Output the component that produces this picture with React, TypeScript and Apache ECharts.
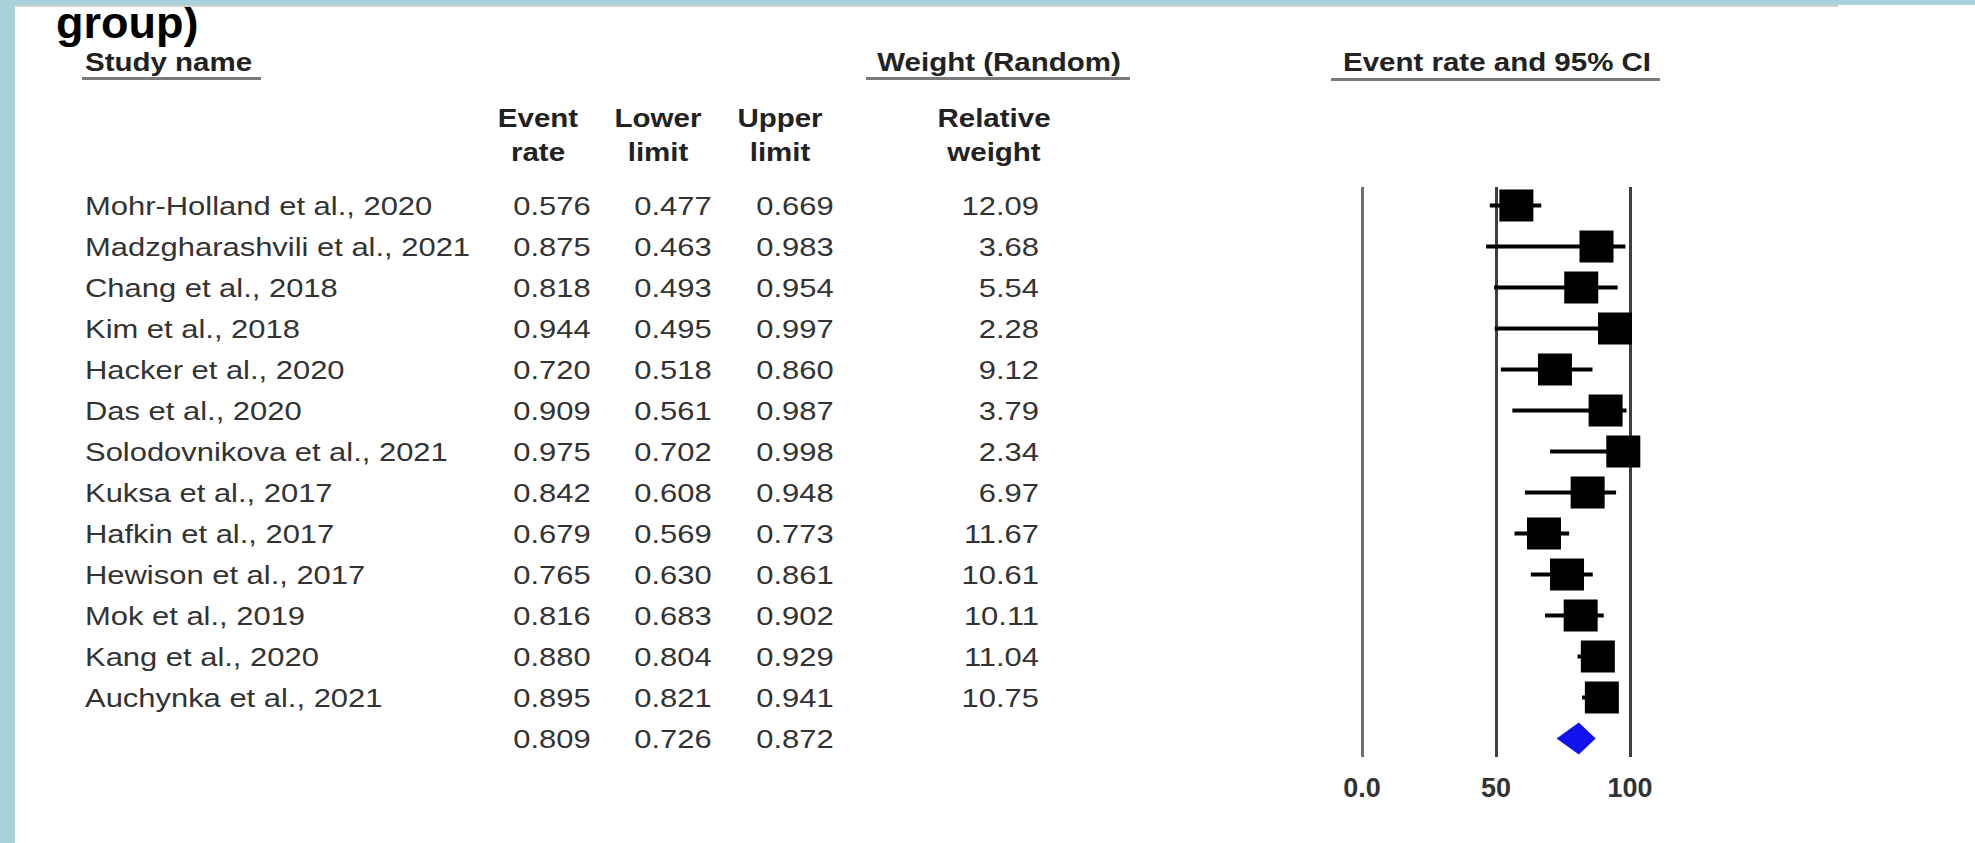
import React, { useEffect, useRef } from 'react';
import * as echarts from 'echarts';

// Study-level results (proportions) and random-effects weights
const studies = [
  'Mohr-Holland et al., 2020',
  'Madzgharashvili et al., 2021',
  'Chang et al., 2018',
  'Kim et al., 2018',
  'Hacker et al., 2020',
  'Das et al., 2020',
  'Solodovnikova et al., 2021',
  'Kuksa et al., 2017',
  'Hafkin et al., 2017',
  'Hewison et al., 2017',
  'Mok et al., 2019',
  'Kang et al., 2020',
  'Auchynka et al., 2021',
];
const eventRate = [0.576, 0.875, 0.818, 0.944, 0.72, 0.909, 0.975, 0.842, 0.679, 0.765, 0.816, 0.88, 0.895];
const lowerLimit = [0.477, 0.463, 0.493, 0.495, 0.518, 0.561, 0.702, 0.608, 0.569, 0.63, 0.683, 0.804, 0.821];
const upperLimit = [0.669, 0.983, 0.954, 0.997, 0.86, 0.987, 0.998, 0.948, 0.773, 0.861, 0.902, 0.929, 0.941];
const relativeWeight = [12.09, 3.68, 5.54, 2.28, 9.12, 3.79, 2.34, 6.97, 11.67, 10.61, 10.11, 11.04, 10.75];

// Pooled estimate
const pooledRate = 0.809;
const pooledLower = 0.726;
const pooledUpper = 0.872;

// Plot scale ticks
const axisTicks = [0, 50, 100];
const axisTickLabels = ['0.0', '50', '100'];

const FONT = '"Liberation Sans", Arial, Helvetica, sans-serif';
const ROW_SCALE_X = 1.19;
const HEAD_SCALE_X = 1.18;
const FRAME_BLUE = '#a8d3db';

export default function App() {
  const ref = useRef<HTMLDivElement>(null);

  useEffect(() => {
    const chart = echarts.init(ref.current as HTMLDivElement, null, { renderer: 'svg' });
    const summaryRow = studies.length;

    const cell = (text: string, x: number, y: number, align: string) => ({
      type: 'text',
      x,
      y,
      scaleX: ROW_SCALE_X,
      style: {
        text,
        fill: '#333333',
        fontSize: 26,
        fontFamily: FONT,
        align,
        textAlign: align,
        verticalAlign: 'middle',
        textVerticalAlign: 'middle',
      },
    });

    const head = (text: string, x: number, y: number, align = 'center') => ({
      type: 'text',
      x,
      y,
      scaleX: HEAD_SCALE_X,
      z: 10,
      style: {
        text,
        fill: '#222222',
        fontSize: 25,
        fontWeight: 'bold',
        fontFamily: FONT,
        align,
        textAlign: align,
        verticalAlign: 'middle',
        textVerticalAlign: 'middle',
      },
    });

    const underline = (x1: number, x2: number, y: number) => ({
      type: 'rect',
      z: 10,
      shape: { x: x1, y, width: x2 - x1, height: 3 },
      style: { fill: '#7a7a7a' },
    });

    const tableData: number[][] = [];
    for (let i = 0; i <= summaryRow; i++) tableData.push([0, i]);

    chart.setOption({
      animation: false,
      backgroundColor: '#ffffff',
      grid: { left: 1362, width: 268, top: 187, height: 570 },
      xAxis: {
        type: 'value',
        min: 0,
        max: 100,
        interval: 50,
        axisLine: { show: false },
        axisTick: { show: false },
        splitLine: {
          show: true,
          lineStyle: { color: ['#707070', '#3e3e3e', '#3e3e3e'], width: 3 },
        },
        axisLabel: {
          margin: 17,
          fontSize: 27,
          fontWeight: 'bold',
          fontFamily: FONT,
          color: '#333333',
          formatter: (v: number) => {
            const k = axisTicks.indexOf(v);
            return k >= 0 ? axisTickLabels[k] : '';
          },
        },
      },
      yAxis: {
        type: 'value',
        inverse: true,
        min: -0.45,
        max: 13.45,
        show: false,
      },
      series: [
        // Table columns: study name, event rate, limits, relative weight
        {
          type: 'custom',
          coordinateSystem: 'cartesian2d',
          silent: true,
          clip: false,
          data: tableData,
          renderItem: (params: any, api: any) => {
            const i = params.dataIndex;
            const y = api.coord([0, i])[1];
            const isSummary = i === summaryRow;
            const rate = isSummary ? pooledRate : eventRate[i];
            const lo = isSummary ? pooledLower : lowerLimit[i];
            const hi = isSummary ? pooledUpper : upperLimit[i];
            const children: any[] = [
              cell(rate.toFixed(3), 552, y, 'center'),
              cell(lo.toFixed(3), 673, y, 'center'),
              cell(hi.toFixed(3), 795, y, 'center'),
            ];
            if (!isSummary) {
              children.push(cell(studies[i], 85, y, 'left'));
              children.push(cell(relativeWeight[i].toFixed(2), 1039, y, 'right'));
            }
            return { type: 'group', children };
          },
        },
        // Confidence interval whiskers
        {
          type: 'custom',
          coordinateSystem: 'cartesian2d',
          silent: true,
          z: 2,
          data: studies.map((_, i) => [lowerLimit[i] * 100, upperLimit[i] * 100, i]),
          encode: { x: [0, 1], y: 2 },
          renderItem: (params: any, api: any) => {
            const a = api.coord([api.value(0), api.value(2)]);
            const b = api.coord([api.value(1), api.value(2)]);
            return {
              type: 'line',
              shape: { x1: a[0], y1: a[1], x2: b[0], y2: b[1] },
              style: { stroke: '#000000', lineWidth: 4 },
            };
          },
        },
        // Point estimates
        {
          type: 'scatter',
          silent: true,
          z: 3,
          symbol: 'rect',
          symbolSize: [34, 32],
          itemStyle: { color: '#000000', opacity: 1 },
          data: eventRate.map((r, i) => [r * 100, i]),
        },
        // Pooled estimate diamond
        {
          type: 'custom',
          coordinateSystem: 'cartesian2d',
          silent: true,
          z: 3,
          data: [[pooledLower * 100, pooledRate * 100, pooledUpper * 100, summaryRow]],
          encode: { x: [0, 1, 2], y: 3 },
          renderItem: (params: any, api: any) => {
            const row = api.value(3);
            const l = api.coord([api.value(0), row]);
            const m = api.coord([api.value(1), row]);
            const r = api.coord([api.value(2), row]);
            const h = 16;
            return {
              type: 'polygon',
              shape: {
                points: [
                  [l[0], l[1]],
                  [m[0], m[1] - h],
                  [r[0], r[1]],
                  [m[0], m[1] + h],
                ],
              },
              style: { fill: '#1212ee' },
            };
          },
        },
      ],
      graphic: {
        elements: [
          // Slide title fragment
          {
            type: 'text',
            x: 56,
            y: 22,
            z: 5,
            style: {
              text: 'group)',
              fill: '#000000',
              fontSize: 45,
              fontWeight: 'bold',
              fontFamily: FONT,
              align: 'left',
              textAlign: 'left',
              verticalAlign: 'middle',
              textVerticalAlign: 'middle',
            },
          },
          // Column headers
          head('Study name', 85, 62, 'left'),
          underline(82, 261, 77),
          head('Weight (Random)', 999, 62),
          underline(866, 1130, 77),
          head('Event rate and 95% CI', 1497, 62),
          underline(1331, 1660, 78),
          head('Event', 538, 118),
          head('rate', 538, 152),
          head('Lower', 658, 118),
          head('limit', 658, 152),
          head('Upper', 780, 118),
          head('limit', 780, 152),
          head('Relative', 994, 118),
          head('weight', 994, 152),
          // Slide frame
          {
            type: 'rect',
            z: 20,
            shape: { x: 15, y: 5, width: 1823, height: 2 },
            style: { fill: '#d2d2d2' },
          },
          {
            type: 'rect',
            z: 20,
            shape: { x: 0, y: 0, width: 1975, height: 5 },
            style: { fill: FRAME_BLUE },
          },
          {
            type: 'rect',
            z: 20,
            shape: { x: 0, y: 0, width: 15, height: 843 },
            style: { fill: FRAME_BLUE },
          },
        ],
      },
    });

    return () => chart.dispose();
  }, []);

  return (
    <div
      ref={ref}
      style={{ position: 'absolute', left: 0, top: 0, width: 1975, height: 843, background: '#ffffff' }}
    />
  );
}
